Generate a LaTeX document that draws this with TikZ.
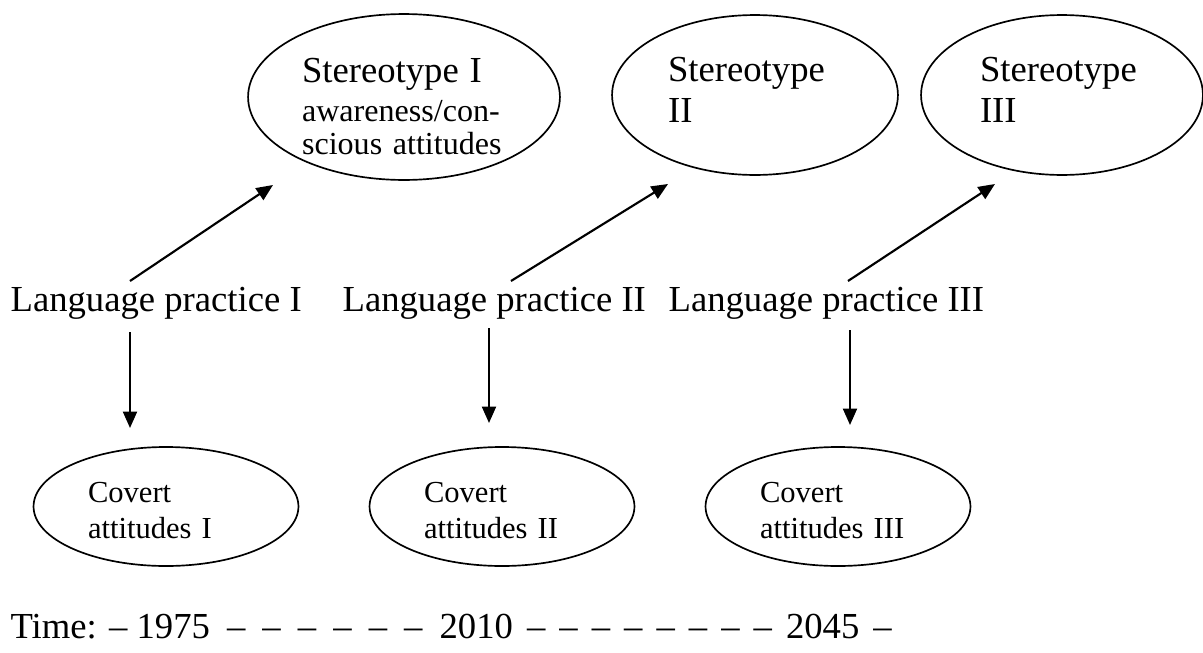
\documentclass[tikz,border=0pt]{standalone}
\usepackage{fontspec}
\setmainfont{Liberation Serif}
\usetikzlibrary{shapes.geometric,arrows.meta}

\newcommand{\timedash}[1]{\hspace{#1}–}

\begin{document}
\begin{tikzpicture}[x=0.0115cm,y=-0.0115cm,
	stereo/.style={draw,ellipse,line width=0.55pt,inner sep=0pt,align=left,
		font=\fontsize{12}{13.4}\selectfont,text depth=0.584cm,minimum height=1.84cm},
	covert/.style={draw,ellipse,line width=0.55pt,inner sep=0pt,align=left,
		text width=1.794cm,text depth=0.319cm,minimum width=3.048cm,minimum height=1.369cm,
		font=\fontsize{10}{11.8}\selectfont},
	practice/.style={anchor=base west,inner sep=0pt,font=\fontsize{12}{14}\selectfont},
	arr/.style={line width=0.7pt,-{Triangle[length=5.4pt,width=4.6pt]}}]
	
	\useasboundingbox (0,0) rectangle (1203,653);
	
	% Stereotypes
	\node[stereo,text width=2.346cm,text depth=0.607cm,minimum width=3.588cm,minimum height=1.909cm,
		font=\fontsize{10.5}{10.8}\selectfont] (st1) at (404,97)
		{{\fontsize{12}{10.8}\selectfont Stereotype I}\\[1.95pt]awareness/con-\\scious attitudes};
	\node[stereo,text width=2.0cm,minimum width=3.289cm] (st2) at (755,95) {Stereotype\\II};
	\node[stereo,text width=1.886cm,minimum width=3.243cm] (st3) at (1062,95) {Stereotype\\III};
	
	% Language practice
	\node[practice] (lp1) at (10,311) {Language practice I};
	\node[practice] (lp2) at (342,311) {Language practice II};
	\node[practice] (lp3) at (668,311) {Language practice III};
	
	% Covert attitudes
	\node[covert] (cv1) at (166,506.5) {Covert\\attitudes I};
	\node[covert] (cv2) at (502,506.5) {Covert\\attitudes II};
	\node[covert] (cv3) at (838,506.5) {Covert\\attitudes III};
	
	%% Arrows up
	\draw[arr] ([shift={(120,-30)}]lp1.base west) -- ([shift={(-131,88)}]st1.center);
	\draw[arr] ([shift={(169,-30)}]lp2.base west) -- ([shift={(-87,89)}]st2.center);
	\draw[arr] ([shift={(180,-30)}]lp3.base west) -- ([shift={(-67,89)}]st3.center);
	
	%% Arrows down
	\draw[arr] ([shift={(120,21)}]lp1.base west) -- ([shift={(-36,-78.5)}]cv1.center);
	\draw[arr] ([shift={(147,17)}]lp2.base west) -- ([shift={(-13,-83.5)}]cv2.center);
	\draw[arr] ([shift={(182,19)}]lp3.base west) -- ([shift={(12,-81.5)}]cv3.center);
	
	% Time line
	\node[practice] (time) at (10,638) {Time: – 1975\timedash{5.6pt}\timedash{5.6pt}\timedash{5.6pt}\timedash{5.6pt}\timedash{5.6pt}\timedash{5.6pt}\hspace{5.6pt}2010\timedash{4.6pt}\timedash{4.6pt}\timedash{4.6pt}\timedash{4.6pt}\timedash{4.6pt}\timedash{4.6pt}\timedash{4.6pt}\timedash{4.6pt}\hspace{4.6pt}2045\timedash{4.6pt}};
	
\end{tikzpicture}
\end{document}
